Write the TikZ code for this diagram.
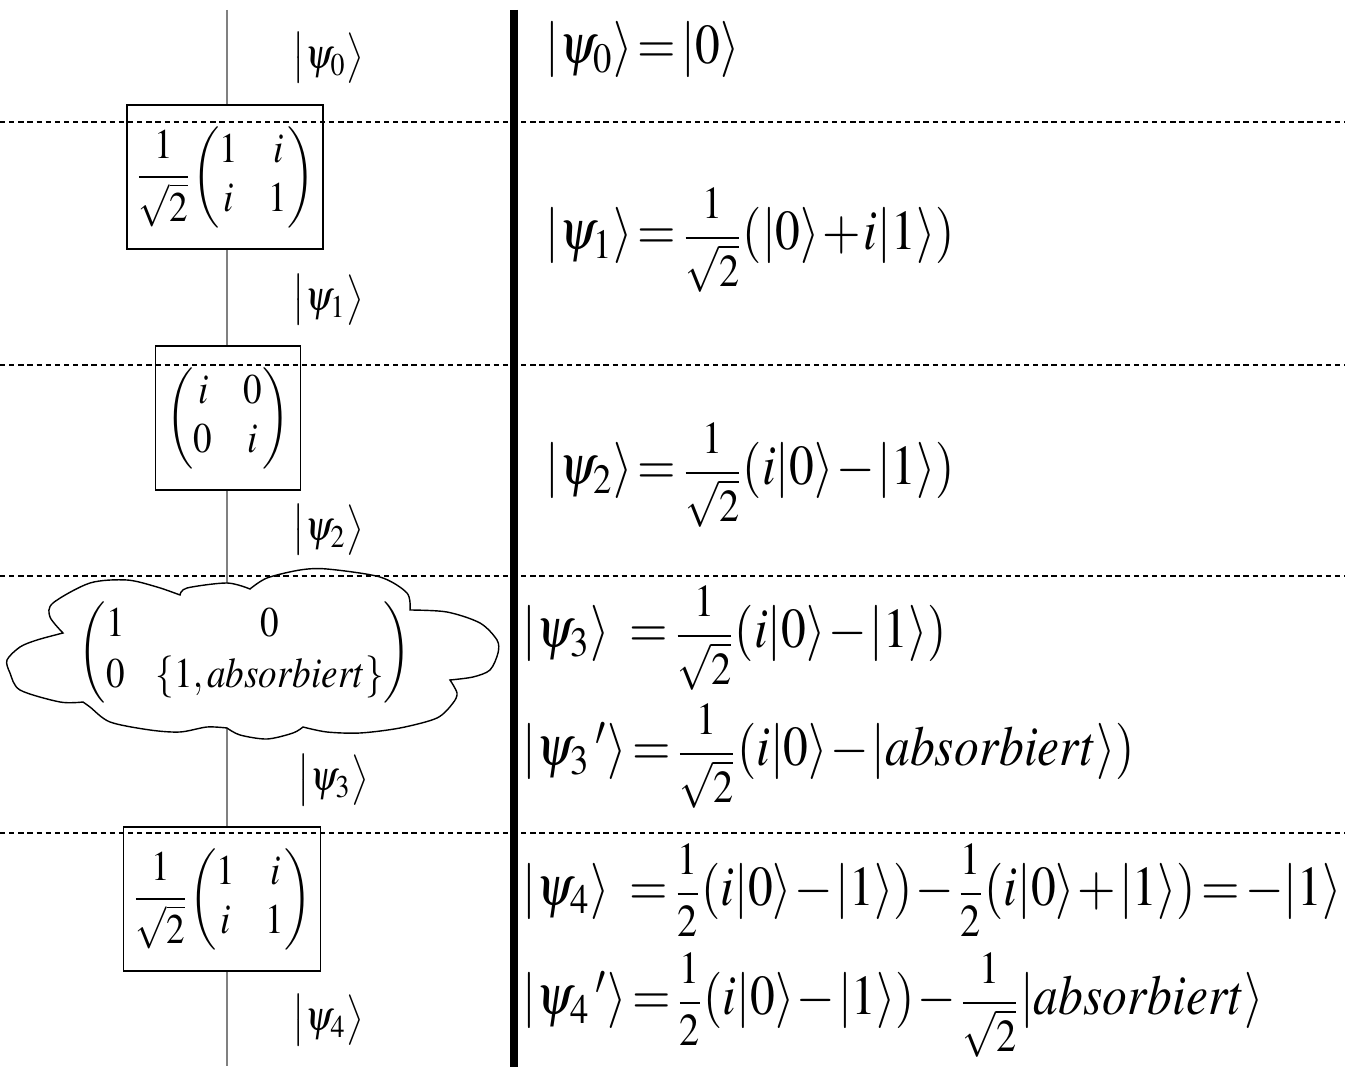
\documentclass[tikz,border=0pt]{standalone}
\usepackage{amsmath}
\usepackage{mathptmx}
\usepackage{graphicx}
\usetikzlibrary{shapes.symbols}

\newcommand\ket[1]{\left|\rule[-0.4em]{0pt}{1.3em}#1\right\rangle}
\newcommand\kt[1]{\mathopen{|}#1\mathclose{\rangle}}
\newcommand\kfrac[2]{\mbox{\fontsize{13}{16}\selectfont$\displaystyle\frac{#1}{#2}$}}
\newcommand\tightmath{\thickmuskip=2mu\relax\medmuskip=1mu\relax}
\newcommand\narrow[1]{\scalebox{0.88}[1]{#1}}

\tikzset{
  gate/.style={draw, fill=white, line width=0.45pt, minimum height=1.44cm, inner sep=0pt, font=\fontsize{12}{14}\selectfont},
  wire/.style={draw=gray, line width=0.6pt},
  cloudline/.style={draw, fill=white, line width=0.4pt},
  sep/.style={line width=0.35pt, dash pattern=on 1.5pt off 1.1pt},
  state/.style={anchor=west, inner sep=0pt, font=\fontsize{12}{14}\selectfont},
  eqn/.style={anchor=west, inner sep=0pt, font=\fontsize{16}{19}\selectfont\tightmath},
}

\begin{document}
\begin{tikzpicture}[x=0.01cm,y=-0.01cm]
  \useasboundingbox (0,0) rectangle (1345,1067);

  % Wire
  \coordinate (wiretop) at (227,10);
  \coordinate (wirebot) at (227,1066);
  \draw[wire] (wiretop) -- (wirebot);

  % Measurement cloud
  \draw[cloudline] plot[smooth] coordinates {(63,633) (50,617) (53,603) (90,583) (127,580) (157,587) (180,595)}
    -- plot[smooth] coordinates {(180,595) (187,588) (227,583) (250,589)}
    -- plot[smooth] coordinates {(250,589) (267,578) (300,570) (327,569) (380,577) (407,593) (410,610)}
    -- plot[smooth] coordinates {(410,610) (447,612) (480,623) (497,640) (498,653) (490,670) (473,677) (450,680)}
    -- plot[smooth] coordinates {(450,680) (457,693) (453,703) (437,718) (400,728) (360,733) (327,732) (303,727)}
    -- plot[smooth] coordinates {(303,727) (293,733) (267,739) (240,735) (227,728)}
    -- plot[smooth] coordinates {(227,728) (207,727) (180,732) (150,730) (110,722) (90,707) (83,702)}
    -- plot[smooth] coordinates {(83,702) (60,702) (20,690) (10,673) (7,660) (20,647) (37,640) (63,633)}
    -- cycle;
  \node[inner sep=0pt, font=\fontsize{12}{14.5}\selectfont] (measure) at (245,652)
    {\narrow{$\begin{pmatrix}1 & 0\\ 0 & \left\{1,absorbiert\right\}\end{pmatrix}$}};

  % Gates
  \node[gate, minimum width=1.96cm] (gate1) at (225,177)
    {\narrow{$\dfrac{1}{\sqrt{2}}\!\begin{pmatrix}1 & i\\ i & 1\end{pmatrix}$}};
  \node[gate, minimum width=1.45cm] (gate2) at (228,418)
    {\narrow{$\begin{pmatrix}i & 0\\ 0 & i\end{pmatrix}$}};
  \node[gate, minimum width=1.97cm] (gate3) at (222,899)
    {\narrow{$\dfrac{1}{\sqrt{2}}\!\begin{pmatrix}1 & i\\ i & 1\end{pmatrix}$}};

  % State labels
  \node[state] (psi0) at (292,58) {\narrow{$\ket{\psi_0}$}};
  \node[state] (psi1) at (292,300) {\narrow{$\ket{\psi_1}$}};
  \node[state] (psi2) at (292,530) {\narrow{$\ket{\psi_2}$}};
  \node[state] (psi3) at (297,780) {\narrow{$\ket{\psi_3}$}};
  \node[state] (psi4) at (292,1020) {\narrow{$\ket{\psi_4}$}};

  % Separators
  \draw[sep] (0,122) -- (1345,122);
  \draw[sep] (0,365) -- (1345,365);
  \draw[sep] (0,576) -- (1345,576);
  \draw[sep] (0,833) -- (1345,833);

  % Divider
  \draw[line width=2.3pt] (514,10) -- (514,1067);

  % Equations
  \node[eqn] (eq0) at (545,50) {\narrow{$\kt{\psi_0}=\kt{0}$}};
  \node[eqn] (eq1) at (545,240) {\narrow{$\kt{\psi_1}=\kfrac{1}{\sqrt{2}}(\kt{0}+i\kt{1})$}};
  \node[eqn] (eq2) at (545,475) {\narrow{$\kt{\psi_2}=\kfrac{1}{\sqrt{2}}(i\kt{0}-\kt{1})$}};
  \node[eqn] (eq3) at (522,638) {\narrow{$\kt{\psi_3}\ =\kfrac{1}{\sqrt{2}}(i\kt{0}-\kt{1})$}};
  \node[eqn] (eq3b) at (522,756) {\narrow{$\kt{\psi_3\,'}=\kfrac{1}{\sqrt{2}}(i\kt{0}-\kt{absorbiert})$}};
  \node[eqn] (eq4) at (522,890) {\narrow{$\kt{\psi_4}\ =\kfrac{1}{2}(i\kt{0}-\kt{1})-\kfrac{1}{2}(i\kt{0}+\kt{1})=-\kt{1}$}};
  \node[eqn] (eq4b) at (522,1005) {\narrow{$\kt{\psi_4\,'}=\kfrac{1}{2}(i\kt{0}-\kt{1})-\kfrac{1}{\sqrt{2}}\kt{absorbiert}$}};
\end{tikzpicture}
\end{document}
